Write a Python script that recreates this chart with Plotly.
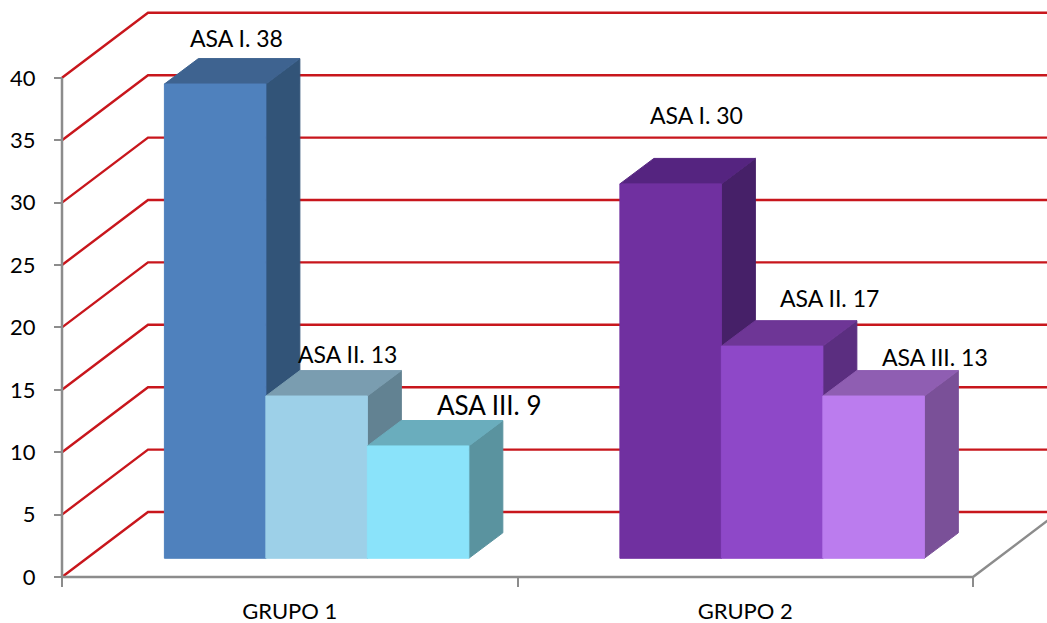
import plotly.graph_objects as go

# Chart content
groups = ["GRUPO 1", "GRUPO 2"]
asa_names = ["ASA I", "ASA II", "ASA III"]
group1_values = [38, 13, 9]
group2_values = [30, 17, 13]
value_ticks = [0, 5, 10, 15, 20, 25, 30, 35, 40]

# Face colours per bar: front, top, side
group1_faces = [
    ("#4F81BD", "#3E6390", "#325478"),
    ("#9DD0E8", "#7A9DB0", "#628292"),
    ("#8AE3FA", "#6AADBD", "#5A939F"),
]
group2_faces = [
    ("#7030A0", "#552480", "#462068"),
    ("#8E48C8", "#6E3696", "#5B2E80"),
    ("#BB7CEE", "#8F5EB2", "#7A5098"),
]

# Label nudges from the top centre of each bar's front face, in pixels
group1_nudges = [(21, 46, 23), (31, 42, 23), (71, 41, 26)]
group2_nudges = [(26, 69, 23), (57, 48, 23), (61, 39, 23)]

# Scale of the axes on the page
PAGE_W, PAGE_H = 1047, 623
ORIGIN_X, ORIGIN_Y = 62, 46          # axis origin, from the left and from the bottom
PX_PER_GROUP, PX_PER_UNIT = 455.5, 12.48

# Oblique projection, in axis units
WALL_DX, WALL_DY = 0.1888, 5.21      # front plane to back wall
SIDE_DX, SIDE_DY = 0.0746, 2.04      # depth of a bar
BAR_SHIFT = 0.059                    # bars sit inside the box, to the right
BAR_BASE = 1.5                       # and above the front edge of the floor
BAR_WIDTH = 0.2228

GRID = "#C8161C"
AXIS = "#8C8C8C"
FONT = "Lato, 'Open Sans', sans-serif"

fig = go.Figure()


def path(xs, ys, color, width=2.4):
    fig.add_trace(go.Scatter(x=xs, y=ys, mode="lines",
                             line=dict(color=color, width=width),
                             hoverinfo="skip", showlegend=False))


def face(xs, ys, color, edge):
    fig.add_trace(go.Scatter(x=xs + xs[:1], y=ys + ys[:1], mode="lines",
                             fill="toself", fillcolor=color,
                             line=dict(color=edge, width=1),
                             hoverinfo="skip", showlegend=False))


# Box: gridlines run up the side wall and along the back wall
x_end = len(groups)
for v in value_ticks:
    path([0, WALL_DX, x_end + WALL_DX], [v, v + WALL_DY, v + WALL_DY], GRID)

# Axis lines and the right edge of the floor
path([0, 0], [value_ticks[0], value_ticks[-1]], AXIS, 2.5)
path([0, x_end, x_end + WALL_DX], [0, 0, WALL_DY], AXIS, 2.5)

# Bars, drawn left to right so that each front face covers its neighbour's side
annotations = []
all_groups = [
    (group1_values, group1_faces, group1_nudges),
    (group2_values, group2_faces, group2_nudges),
]
for g, (values, faces, nudges) in enumerate(all_groups):
    for i, value in enumerate(values):
        left = g + 0.5 + (i - 1.5) * BAR_WIDTH + BAR_SHIFT
        right = left + BAR_WIDTH
        top_y = BAR_BASE + value
        front, top, side = faces[i]
        face([right, right + SIDE_DX, right + SIDE_DX, right],
             [BAR_BASE, BAR_BASE + SIDE_DY, top_y + SIDE_DY, top_y], side, side)
        face([left, left + SIDE_DX, right + SIDE_DX, right],
             [top_y, top_y + SIDE_DY, top_y + SIDE_DY, top_y], top, top)
        face([left, right, right, left],
             [BAR_BASE, BAR_BASE, top_y, top_y], front, front)
        dx, dy, size = nudges[i]
        annotations.append(dict(
            x=(left + right) / 2, y=top_y, xref="x", yref="y",
            text=f"{asa_names[i]}. {value}", showarrow=False,
            xanchor="center", yanchor="middle", xshift=dx, yshift=dy,
            font=dict(family=FONT, size=size, color="#000000"),
        ))

fig.update_layout(
    width=PAGE_W, height=PAGE_H,
    margin=dict(l=0, r=0, t=0, b=0, autoexpand=False),
    paper_bgcolor="#FFFFFF", plot_bgcolor="rgba(0,0,0,0)",
    showlegend=False,
    annotations=annotations,
    font=dict(family=FONT, color="#000000"),
    # The plot area fills the page and the axes float at the origin, so lines
    # along the axes are not cut by the subplot clip
    xaxis=dict(
        range=[-ORIGIN_X / PX_PER_GROUP, (PAGE_W - ORIGIN_X) / PX_PER_GROUP],
        anchor="free", position=ORIGIN_Y / PAGE_H,
        showgrid=False, zeroline=False, showline=False,
        tickvals=[i + 0.5 for i in range(len(groups))], ticktext=groups,
        ticks="", ticklabelstandoff=19, tickfont=dict(size=22),
        minor=dict(tickvals=list(range(len(groups) + 1)), ticks="outside",
                   ticklen=9, tickwidth=2, tickcolor=AXIS),
    ),
    yaxis=dict(
        range=[-ORIGIN_Y / PX_PER_UNIT, (PAGE_H - ORIGIN_Y) / PX_PER_UNIT],
        anchor="free", position=ORIGIN_X / PAGE_W,
        showgrid=False, zeroline=False, showline=False,
        tickvals=value_ticks, ticks="outside", ticklen=8, tickwidth=2,
        tickcolor=AXIS, ticklabelstandoff=14, tickfont=dict(size=22),
    ),
)

fig.write_html("out.html")
